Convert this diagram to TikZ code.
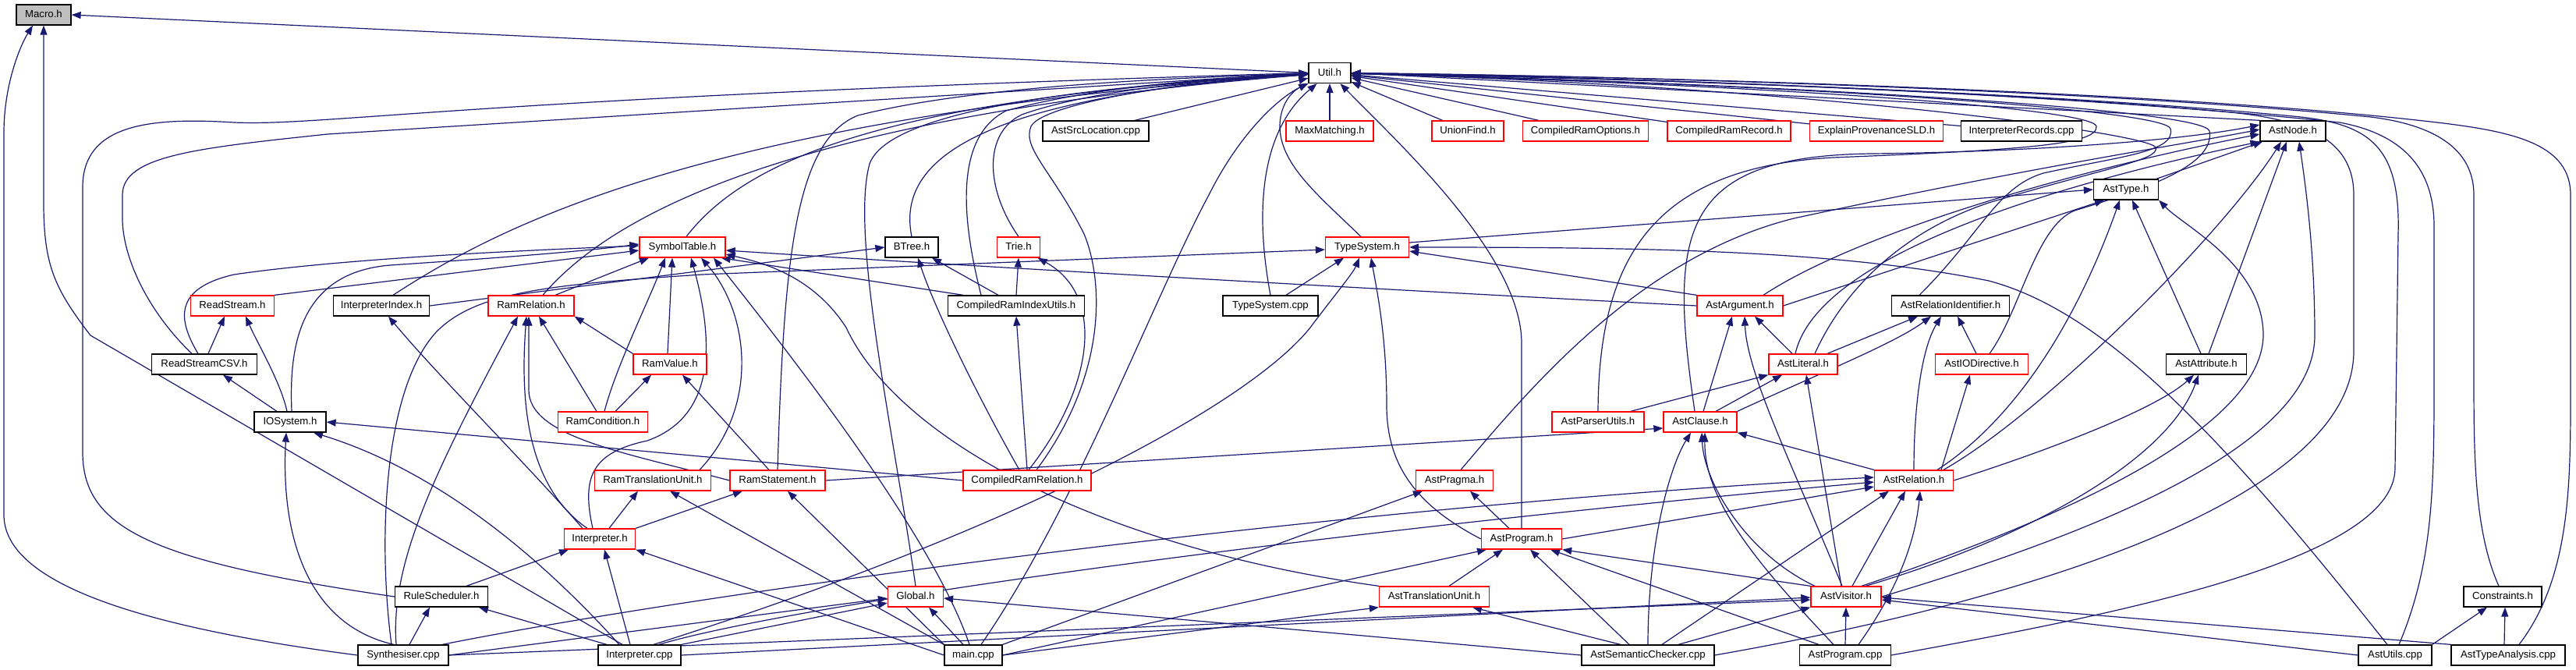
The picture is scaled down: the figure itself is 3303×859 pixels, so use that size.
\documentclass[tikz,border=0pt]{standalone}
\usepackage{fontspec}
\setmainfont{Liberation Sans}
\usetikzlibrary{arrows.meta,backgrounds}
\definecolor{eb}{RGB}{25,25,112}
\definecolor{mgray}{RGB}{191,191,191}
\begin{document}
\begin{tikzpicture}[x=1pt,y=-1pt,
  nb/.style={draw=black, line width=1.3pt, fill=white, minimum height=26pt, inner sep=0pt,
    font=\fontsize{13.2}{15}\selectfont, text height=9.6pt, text depth=2.6pt},
  nr/.style={nb, draw=red},
  ng/.style={nb, fill=mgray},
  dep/.style={draw=eb, line width=1.2pt, -{Triangle[length=12pt,width=9pt]}}]
\useasboundingbox (0,0) rectangle (3303,859);
% row 0-3
\node[ng, minimum width=70pt] (macro) at (56,19) {Macro.h};
\node[nb, minimum width=54pt] (util) at (1705,93.5) {Util.h};
\node[nb, minimum width=136pt] (asl) at (1405,168) {AstSrcLocation.cpp};
\node[nr, minimum width=112pt] (maxm) at (1705,168) {MaxMatching.h};
\node[nr, minimum width=92pt] (uf) at (1882,168) {UnionFind.h};
\node[nr, minimum width=161pt] (cro) at (2033,168) {CompiledRamOptions.h};
\node[nr, minimum width=158pt] (crrec) at (2217,168) {CompiledRamRecord.h};
\node[nr, minimum width=171pt] (eps) at (2406,168) {ExplainProvenanceSLD.h};
\node[nb, minimum width=155pt] (irec) at (2592,168) {InterpreterRecords.cpp};
\node[nb, minimum width=84pt] (anode) at (2940,168) {AstNode.h};
\node[nb, minimum width=83pt] (atype) at (2726,243) {AstType.h};
% row 4
\node[nr, minimum width=110pt] (st) at (875,317) {SymbolTable.h};
\node[nb, minimum width=68pt] (btree) at (1169,317) {BTree.h};
\node[nr, minimum width=55pt] (trie) at (1306,317) {Trie.h};
\node[nr, minimum width=107pt] (tsh) at (1753,317) {TypeSystem.h};
% row 5
\node[nr, minimum width=107pt] (rs) at (298,392) {ReadStream.h};
\node[nb, minimum width=123pt] (ii) at (489,392) {InterpreterIndex.h};
\node[nr, minimum width=110pt] (rrel) at (681,392) {RamRelation.h};
\node[nb, minimum width=175pt] (criu) at (1303,392) {CompiledRamIndexUtils.h};
\node[nb, minimum width=122pt] (tscpp) at (1629,392) {TypeSystem.cpp};
\node[nr, minimum width=110pt] (aarg) at (2231,392) {AstArgument.h};
\node[nb, minimum width=151pt] (arid) at (2501,392) {AstRelationIdentifier.h};
% row 6
\node[nb, minimum width=135pt] (rscsv) at (262,467) {ReadStreamCSV.h};
\node[nr, minimum width=94pt] (rval) at (859,467) {RamValue.h};
\node[nr, minimum width=88pt] (alit) at (2312,467) {AstLiteral.h};
\node[nr, minimum width=119pt] (aio) at (2541,467) {AstIODirective.h};
\node[nb, minimum width=103pt] (aattr) at (2829,467) {AstAttribute.h};
% row 7
\node[nb, minimum width=92pt] (ios) at (372,541) {IOSystem.h};
\node[nr, minimum width=115pt] (rcond) at (773,541) {RamCondition.h};
\node[nr, minimum width=118pt] (apu) at (2049,541) {AstParserUtils.h};
\node[nr, minimum width=94pt] (aclause) at (2180,541) {AstClause.h};
% row 8
\node[nr, minimum width=149pt] (rtu) at (837,616) {RamTranslationUnit.h};
\node[nr, minimum width=122pt] (rstmt) at (997,616) {RamStatement.h};
\node[nr, minimum width=164pt] (crel) at (1317,616) {CompiledRamRelation.h};
\node[nr, minimum width=99pt] (apragma) at (1865,616) {AstPragma.h};
\node[nr, minimum width=101pt] (arel) at (2454,616) {AstRelation.h};
% row 9
\node[nr, minimum width=91pt] (interp) at (769,691) {Interpreter.h};
\node[nr, minimum width=103pt] (aprog) at (1951,691) {AstProgram.h};
% row 10
\node[nb, minimum width=119pt] (rsched) at (566,765) {RuleScheduler.h};
\node[nr, minimum width=71pt] (glob) at (1174,765) {Global.h};
\node[nr, minimum width=141pt] (atu) at (1839,765) {AstTranslationUnit.h};
\node[nr, minimum width=90pt] (avis) at (2367,765) {AstVisitor.h};
\node[nb, minimum width=100pt] (cons) at (3209,765) {Constraints.h};
% row 11
\node[nb, minimum width=116pt] (synth) at (517,840) {Synthesiser.cpp};
\node[nb, minimum width=106pt] (icpp) at (820,840) {Interpreter.cpp};
\node[nb, minimum width=74pt] (maincpp) at (1248,840) {main.cpp};
\node[nb, minimum width=170pt] (asc) at (2113,840) {AstSemanticChecker.cpp};
\node[nb, minimum width=117pt] (apcpp) at (2366,840) {AstProgram.cpp};
\node[nb, minimum width=94pt] (autils) at (3071,840) {AstUtils.cpp};
\node[nb, minimum width=146pt] (ata) at (3216,840) {AstTypeAnalysis.cpp};

\begin{scope}[on background layer]
\fill[white] (0,0) rectangle (3303,859);
% ---- Macro.h
\draw[dep] (util.west) -- (macro.east);
\draw[dep] (synth.west) .. controls (150,800) and (5,740) .. (5,660) -- (5,170) .. controls (5,110) and (25,60) .. ([xshift=-14pt]macro.south);
\draw[dep] ([xshift=-22pt]icpp.north) -- (116,430) .. controls (70,370) and (56,340) .. (56,260) -- (macro.south);
% ---- Util.h from the left
\draw[dep] (rsched.west) .. controls (200,720) and (106,680) .. (106,580) -- (106,240) .. controls (106,160) and (190,150) .. (300,157) .. controls (420,162) and (600,125) .. (util.west);
\draw[dep] ([xshift=-16pt]rscsv.north) .. controls (190,400) and (157,330) .. (157,280) -- (157,250) .. controls (157,200) and (250,190) .. (420,172) -- (util.west);
\draw[dep] ([xshift=15pt]ii.north) .. controls (640,290) and (900,150) .. (util);
\draw[dep] ([xshift=15pt]rrel.north) .. controls (780,280) and (1000,150) .. (util);
\draw[dep] ([xshift=5pt]st.north) .. controls (960,200) and (1150,125) .. (util);
\draw[dep] (rstmt.north) .. controls (1005,330) and (1020,180) .. (1100,148) .. controls (1250,110) and (1500,100) .. (util);
\draw[dep] (glob.north) .. controls (1145,550) and (1090,300) .. (1115,210) .. controls (1140,140) and (1400,110) .. (util);
\draw[dep] (btree.north) .. controls (1150,210) and (1240,125) .. (util);
\draw[dep] ([xshift=-45pt]criu.north) .. controls (1225,250) and (1235,170) .. (1290,142) .. controls (1400,112) and (1550,100) .. (util);
\draw[dep] (trie.north) .. controls (1262,240) and (1262,170) .. (1310,147) .. controls (1400,115) and (1550,102) .. (util);
\draw[dep] ([xshift=12pt]crel.north) .. controls (1420,480) and (1415,360) .. (1390,300) .. controls (1350,220) and (1310,190) .. (1322,162) .. controls (1335,135) and (1500,105) .. (util);
\draw[dep] ([xshift=50pt]asl.north) -- (util);
\draw[dep] ([xshift=10pt]maincpp.north) .. controls (1380,650) and (1480,380) .. (1550,250) .. controls (1590,170) and (1640,125) .. (util);
\draw[dep] (tscpp.north) .. controls (1605,250) and (1625,160) .. (util);
\draw[dep] ([xshift=-8pt]tsh.north) .. controls (1690,250) and (1640,210) .. (1641,160) .. controls (1642,130) and (1660,115) .. (util.south west);
\draw[dep] (maxm) -- (util);
\draw[dep] (aprog.north) -- (1951,440) .. controls (1951,330) and (1800,190) .. (util);
% ---- Util.h from the right
\draw[dep] (uf) -- (util);
\draw[dep] (cro) -- (util);
\draw[dep] (crrec) -- (util);
\draw[dep] (eps) -- (util);
\draw[dep] (irec) -- (util);
\draw[dep] (anode.north west) -- (util.east);
\draw[dep] ([xshift=14pt]ata.north) .. controls (3296,740) and (3296,620) .. (3296,500) -- (3296,250) .. controls (3296,175) and (3200,165) .. (3080,152) .. controls (2700,112) and (2000,96) .. (util);
\draw[dep] ([xshift=-5pt]cons.north) .. controls (3172,680) and (3172,580) .. (3172,480) -- (3172,250) .. controls (3172,190) and (3120,160) .. (3040,150) .. controls (2650,112) and (2000,96) .. (util);
\draw[dep] ([xshift=5pt]autils.north) .. controls (3121,720) and (3121,620) .. (3121,480) -- (3121,290) .. controls (3121,215) and (3080,172) .. (3000,157) .. controls (2600,115) and (2000,97) .. (util);
\draw[dep] (apcpp.east) .. controls (2700,790) and (3071,720) .. (3071,600) -- (3075,300) .. controls (3078,190) and (3040,160) .. (2950,150) .. controls (2600,115) and (2000,98) .. (util);
\draw[dep] (asc.east) .. controls (2600,770) and (3018,640) .. (3018,450) -- (3018,250) .. controls (3018,175) and (2950,152) .. (2850,143) .. controls (2500,112) and (2000,99) .. (util);
\draw[dep] (apu.north) .. controls (2050,330) and (2120,215) .. (2350,202) .. controls (2600,192) and (2690,185) .. (2688,162) .. controls (2686,140) and (2300,110) .. (util);
\draw[dep] ([xshift=-40pt]arid.north) .. controls (2540,300) and (2560,240) .. (2620,222) .. controls (2720,200) and (2790,195) .. (2783,165) .. controls (2775,140) and (2300,108) .. (util);
\draw[dep] ([xshift=10pt]aio.north) .. controls (2590,400) and (2610,290) .. (2660,270) .. controls (2760,240) and (2840,210) .. (2833,168) .. controls (2826,140) and (2300,108) .. (util);
\draw[dep] ([xshift=15pt]alit.north) .. controls (2360,380) and (2430,300) .. (2550,260) .. controls (2700,215) and (2770,205) .. (2764,189) .. controls (2755,170) and (2300,110) .. (util);
% ---- AstNode.h
\draw[dep] ([xshift=-7pt]aclause.north) .. controls (2140,300) and (2150,200) .. (2400,197) .. controls (2600,195) and (2800,180) .. ([yshift=8pt]anode.west);
\draw[dep] ([xshift=8pt]apragma.north) .. controls (1960,500) and (2100,330) .. (2300,280) .. controls (2600,215) and (2800,185) .. ([yshift=2pt]anode.west);
\draw[dep] ([xshift=30pt]aarg.north) .. controls (2380,300) and (2650,220) .. ([yshift=-4pt]anode.west);
\draw[dep] ([xshift=-10pt]alit.north) .. controls (2330,330) and (2620,240) .. (anode.south west);
\draw[dep] (atype) -- (anode);
\draw[dep] ([xshift=38pt]arel.north) .. controls (2620,530) and (2850,300) .. ([xshift=-15pt]anode.south);
\draw[dep] ([xshift=3pt]aattr.north) -- ([xshift=-8pt]anode.south);
\draw[dep] (avis.east) .. controls (2800,650) and (2968,540) .. (2968,430) .. controls (2968,330) and (2958,250) .. ([xshift=8pt]anode.south);
% ---- AstType.h
\draw[dep] (aarg.east) -- ([xshift=-28pt]atype.south);
\draw[dep] ([xshift=30pt]arel.north) .. controls (2580,540) and (2660,420) .. ([xshift=-8pt]atype.south);
\draw[dep] ([xshift=-7pt]aattr.north) -- ([xshift=8pt]atype.south);
\draw[dep] ([xshift=20pt]avis.north) .. controls (2600,680) and (2900,560) .. (2902,430) .. controls (2902,340) and (2800,290) .. (atype.south east);
\draw[dep] ([yshift=6pt]tsh.east) -- (atype.west);
% ---- AstAttribute.h / AstIODirective.h / AstRelationIdentifier.h
\draw[dep] (arel.east) .. controls (2650,570) and (2770,520) .. ([xshift=-16pt]aattr.south);
\draw[dep] ([xshift=25pt]avis.north) .. controls (2600,690) and (2780,590) .. ([xshift=-10pt]aattr.south);
\draw[dep] ([xshift=35pt]arel.north) -- ([xshift=-15pt]aio.south);
\draw[dep] ([xshift=-7pt]aio.north) -- ([xshift=9pt]arid.south);
\draw[dep] ([xshift=31pt]alit.north) -- ([xshift=-42pt]arid.south);
\draw[dep] (aclause.north east) .. controls (2330,480) and (2430,440) .. ([xshift=-25pt]arid.south);
\draw[dep] (arel.north) .. controls (2454,530) and (2462,450) .. ([xshift=-12pt]arid.south);
% ---- AstArgument.h
\draw[dep] ([xshift=4pt]aclause.north) -- ([xshift=-10pt]aarg.south);
\draw[dep] ([xshift=-14pt]alit.north) -- ([xshift=19pt]aarg.south);
\draw[dep] ([xshift=-5pt]avis.north) .. controls (2300,600) and (2240,480) .. ([xshift=6pt]aarg.south);
\draw[dep] (aarg.north west) -- ([yshift=-5pt]tsh.east);
\draw[dep] (aarg.west) .. controls (1900,378) and (1300,345) .. ([yshift=-4pt]st.east);
% ---- AstLiteral.h
\draw[dep] ([xshift=42pt]apu.north) -- (alit.south west);
\draw[dep] ([xshift=20pt]aclause.north) -- ([xshift=-27pt]alit.south);
\draw[dep] ([xshift=-6pt]avis.north) -- ([xshift=4pt]alit.south);
% ---- AstClause.h
\draw[dep] (rstmt.east) -- ([yshift=-8pt]aclause.west);
\draw[dep] (arel.north west) -- (aclause.south east);
\draw[dep] (asc.north) .. controls (2113,700) and (2140,600) .. ([xshift=-12pt]aclause.south);
\draw[dep] ([xshift=-40pt]avis.north) .. controls (2240,710) and (2185,620) .. ([xshift=2pt]aclause.south);
\draw[dep] ([xshift=-15pt]apcpp.north) .. controls (2250,720) and (2185,640) .. ([xshift=6pt]aclause.south);
% ---- AstRelation.h
\draw[dep] ([xshift=50pt]synth.north) .. controls (900,760) and (1700,650) .. ([yshift=4pt]arel.west);
\draw[dep] ([xshift=25pt]icpp.north) .. controls (1000,780) and (1600,690) .. ([yshift=-2pt]arel.west);
\draw[dep] (aprog.east) -- ([yshift=-8pt]arel.west);
\draw[dep] ([xshift=18pt]asc.north) -- ([xshift=-32pt]arel.south);
\draw[dep] ([xshift=8pt]avis.north) -- ([xshift=-11pt]arel.south);
\draw[dep] ([xshift=17pt]apcpp.north) .. controls (2430,760) and (2455,700) .. ([xshift=8pt]arel.south);
% ---- AstProgram.h / AstPragma.h / AstTranslationUnit.h
\draw[dep] ([xshift=19pt]atu.north) -- ([xshift=-24pt]aprog.south);
\draw[dep] ([xshift=-24pt]asc.north) -- ([xshift=11pt]aprog.south);
\draw[dep] ([xshift=-34pt]apcpp.north) -- ([xshift=37pt]aprog.south);
\draw[dep] (avis.north west) -- (aprog.south east);
\draw[dep] (maincpp.east) -- ([xshift=-45pt]aprog.south);
\draw[dep] ([xshift=-16pt]aprog.north) -- ([xshift=20pt]apragma.south);
\draw[dep] (aprog.west) .. controls (1820,650) and (1778,600) .. (1778,520) .. controls (1778,430) and (1765,370) .. ([xshift=5pt]tsh.south);
\draw[dep] (maincpp.north east) -- ([xshift=-41pt]apragma.south);
\draw[dep] ([xshift=-35pt]asc.north) -- ([xshift=49pt]atu.south);
\draw[dep] (maincpp.east) -- (atu.south west);
\draw[dep] (atu.north west) .. controls (1400,700) and (1150,560) .. (1085,420) .. controls (1040,350) and (970,335) .. ([yshift=-9pt]st.east);
% ---- AstVisitor.h
\draw[dep] (synth.east) -- ([yshift=-4pt]avis.west);
\draw[dep] (icpp.east) -- ([yshift=-1pt]avis.west);
\draw[dep] ([xshift=39pt]asc.north) -- (avis.south west);
\draw[dep] (apcpp.north) -- (avis.south);
\draw[dep] (autils.west) -- ([yshift=-4pt]avis.east);
\draw[dep] (ata.north west) -- ([yshift=-1pt]avis.east);
\draw[dep] (autils.north east) -- (cons);
\draw[dep] ([xshift=-5pt]ata.north) -- ([xshift=3pt]cons.south);
\draw[dep] ([xshift=-10pt]autils.north) .. controls (2850,560) and (2700,400) .. (2550,360) .. controls (2350,320) and (2100,317) .. (tsh.east);
% ---- Global.h
\draw[dep] (synth.east) -- ([yshift=-2pt]glob.west);
\draw[dep] (icpp.north east) -- ([yshift=-8pt]glob.west);
\draw[dep] ([xshift=-13pt]maincpp.north) -- ([xshift=17pt]glob.south);
\draw[dep] (asc.west) -- ([yshift=-2pt]glob.east);
% ---- TypeSystem.h
\draw[dep] ([xshift=-15pt]synth.north) .. controls (485,700) and (490,500) .. (560,425) .. controls (610,375) and (700,365) .. (900,352) -- ([yshift=-3pt]tsh.west);
\draw[dep] ([xshift=18pt]icpp.north) .. controls (1300,680) and (1600,520) .. (1680,420) .. controls (1710,380) and (1735,350) .. ([xshift=-10pt]tsh.south);
\draw[dep] ([xshift=20pt]tscpp.north) -- ([xshift=-30pt]tsh.south);
% ---- Interpreter / Ram side
\draw[dep] ([xshift=-9pt]synth.north) .. controls (500,720) and (560,600) .. ([xshift=-17pt]rrel.south);
\draw[dep] ([xshift=8pt]synth.north) -- ([xshift=-15pt]rsched.south);
\draw[dep] ([xshift=-42pt]icpp.north) -- ([xshift=48pt]rsched.south);
\draw[dep] ([xshift=-12pt]synth.north) .. controls (390,800) and (360,680) .. ([xshift=-5pt]ios.south);
\draw[dep] ([xshift=-26pt]icpp.north) .. controls (680,700) and (550,600) .. ([xshift=30pt]ios.south);
\draw[dep] ([xshift=32pt]rsched.north) -- ([xshift=-40pt]interp.south);
\draw[dep] ([xshift=-12pt]icpp.north) -- ([xshift=6pt]interp.south);
\draw[dep] (maincpp.west) -- (interp.south east);
\draw[dep] ([xshift=-22pt]interp.north) .. controls (680,600) and (560,480) .. ([xshift=9pt]ii.south);
\draw[dep] ([xshift=-16pt]interp.north) .. controls (670,620) and (668,500) .. ([xshift=-6pt]rrel.south);
\draw[dep] ([xshift=-9pt]interp.north) .. controls (745,610) and (760,580) .. (830,565) .. controls (900,540) and (925,470) .. ([xshift=11pt]st.south);
\draw[dep] ([xshift=12pt]interp.north) -- ([xshift=-19pt]rtu.south);
\draw[dep] (interp.north east) -- ([xshift=-45pt]rstmt.south);
\draw[dep] ([xshift=60pt]rtu.north) .. controls (975,520) and (960,400) .. ([xshift=24pt]st.south);
\draw[dep] ([xshift=-5pt]maincpp.north) .. controls (1200,700) and (1050,500) .. ([xshift=40pt]st.south);
\draw[dep] (maincpp.north west) -- ([xshift=13pt]rstmt.south);
\draw[dep] (maincpp.north west) -- ([xshift=22pt]rtu.south);
\draw[dep] ([xshift=-11pt]rstmt.north) -- ([xshift=16pt]rval.south);
\draw[dep] (rstmt.west) .. controls (800,580) and (678,560) .. (678,500) -- ([xshift=-3pt]rrel.south);
\draw[dep] ([xshift=-8pt]rcond.north) -- ([xshift=10pt]rrel.south);
\draw[dep] ([xshift=2pt]rcond.north) .. controls (790,470) and (830,390) .. ([xshift=-22pt]st.south);
\draw[dep] ([xshift=16pt]rcond.north) -- ([xshift=-24pt]rval.south);
\draw[dep] ([xshift=-3pt]rval.north) -- ([xshift=-13pt]st.south);
\draw[dep] (rval.north west) -- (rrel.south east);
\draw[dep] ([xshift=31pt]rrel.north) -- ([xshift=-43pt]st.south);
% ---- Read/IO side
\draw[dep] (rs.north east) -- ([yshift=-4pt]st.west);
\draw[dep] ([xshift=-8pt]rscsv.north) .. controls (228,410) and (222,370) .. (300,352) .. controls (450,330) and (700,320) .. ([yshift=2pt]st.west);
\draw[dep] ([xshift=5pt]rscsv.north) -- ([xshift=-10pt]rs.south);
\draw[dep] ([xshift=-4pt]ios.north) .. controls (360,490) and (330,440) .. ([xshift=17pt]rs.south);
\draw[dep] ([xshift=-17pt]ios.north) -- ([xshift=24pt]rscsv.south);
\draw[dep] ([xshift=2pt]ios.north) .. controls (371,450) and (380,350) .. (500,340) .. controls (650,330) and (750,322) .. ([yshift=4pt]st.west);
\draw[dep] (crel.west) -- (ios.east);
\draw[dep] (ii.east) -- (btree.west);
% ---- Compiled side
\draw[dep] ([xshift=-68pt]criu.north) -- ([xshift=-6pt]st.south east);
\draw[dep] ([xshift=-23pt]criu.north) -- ([xshift=26pt]btree.south);
\draw[dep] (criu.north) -- (trie.south);
\draw[dep] (crel.north) -- (criu.south);
\draw[dep] ([xshift=-10pt]crel.north) .. controls (1260,520) and (1200,400) .. ([xshift=8pt]btree.south);
\draw[dep] ([xshift=2pt]crel.north) .. controls (1400,500) and (1420,380) .. (trie);
\end{scope}
\end{tikzpicture}
\end{document}
